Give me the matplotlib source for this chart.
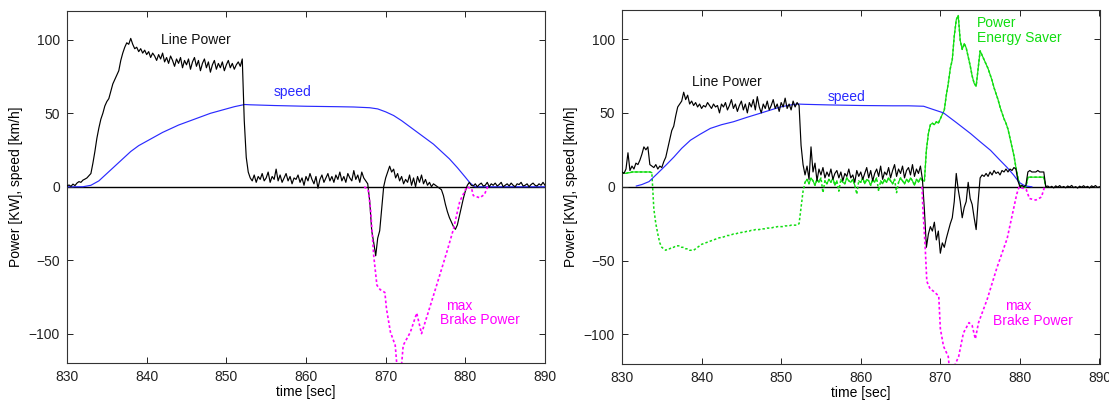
import numpy as np
import matplotlib
matplotlib.use("Agg")
import matplotlib.pyplot as plt

plt.rcParams['font.family'] = ['Liberation Sans', 'DejaVu Sans']

# ---------------- data ----------------
T_START, DT = 830.0, 0.25          # line power / energy saver sampled every 0.25 s

# Line power without energy saver [kW]
line_power_a = [
    0.5, 1.2, 0.3, 1.8,   0.8, 2.5, 3.5, 3.0,   4.5, 5.2, 6.0, 7.5,   9, 16, 24, 33,
    40, 46, 50, 55,       58, 60, 65, 70,       73, 76, 79, 86,       91, 95, 98, 97,
    101, 97, 94, 95,      92, 94, 91, 93,       90, 92, 88, 91,       89, 86, 90, 87,
    91, 85, 88, 84,       89, 86, 82, 87,       84, 88, 81, 86,       83, 87, 80, 85,
    88, 82, 86, 79,       84, 87, 81, 85,       78, 83, 86, 80,       84, 81, 85, 79,
    83, 86, 81, 84,       80, 83, 85, 82,       87, 45, 20, 10,       6, 4, 8, 3,
    7, 5, 9, 4,           6, 10, 3, 7,          5, 12, 4, 8,          3, 6, 9, 4,
    7, 2, 6, 5,           8, 3, 6, 1,           7, 4, 9, 5,           2, 7, -1, 5,
    8, 3, 6, 9,           4, 7, 3, 8,           5, 10, 4, 7,          3, 9, 6, 4,
    11, 5, 8, 3,          10, 6, 4, 2,          -10, -30, -38, -47,   -35, -30, -15, 0,
    6, 10, 14, 10,        12, 6, 9, 4,          7, 2, 5, 3,           8, 1, 6, 0,
    7, 3, 8, 2,           5, 1, 3, 0,           2, 1, 0, -1,          -2, -6, -12, -17,
    -21, -24, -27, -29,   -26, -20, -14, -8,    -3, 1, 3, 1,          0.5, 2, 0, 1.5,
    2.5, 0.5, 1, 3,       0, 2, 1, 2.5,         0.5, 1.5, 3, 0,       1, 2, 0.5, 2.5,
    1, 0, 2, 1.5,         3, 0.5, 1, 2,         0, 1.5, 2.5, 1,       0.5, 2, 1, 3,
    1,
]

# Line power with energy saver [kW]
line_power_b = [
    10, 9, 12, 23,        11, 14, 12, 16,       15, 18, 22, 27,       25, 27, 15, 14,
    13, 15, 12, 14,       13, 17, 20, 26,       32, 38, 41, 48,       54, 56, 58, 64,
    59, 62, 56, 58,       55, 57, 54, 56,       53, 55, 54, 57,       55, 53, 56, 54,
    55, 50, 56, 54,       57, 52, 55, 59,       53, 56, 51, 55,       58, 52, 56, 50,
    57, 54, 59, 52,       61, 54, 50, 56,       53, 58, 52, 55,       59, 53, 56, 51,
    57, 54, 60, 53,       56, 52, 58, 54,       57, 55, 28, 15,       8, 14, 5, 27,
    10, 16, 4, 12,        8, 13, 6, 10,         7, 12, 5, 9,          11, 6, 10, 4,
    9, 7, 12, 6,          8, 3, 11, 7,          10, 5, 9, 13,         6, 11, 4, 9,
    12, 7, 14, 5,         10, 8, 13, 6,         11, 15, 7, 12,        9, 14, 6, 11,
    13, 8, 15, 7,         12, 9, 14, 5,         -16, -41, -32, -27,   -30, -24, -36, -30,
    -45, -38, -41, -35,   -30, -25, -21, -10,   9, -2, -10, -21,      -14, -10, 3, -8,
    -12, -21, -29, -10,   6, 8, 7, 9,           7, 10, 8, 11,         9, 10, 8, 11,
    10, 12, 10, 12,       11, 13, 12, 4,        0, 1, 0, 1,           10, 11, 10, 10,
    10, 11, 10, 10,       10, 0, 0.5, -0.5,     0.3, -0.8, 0.6, -0.3, 0.8, -0.5, 0.2, -0.7,
    0.5, -0.2, 0.9, -0.6, 0.1, -0.9, 0.4, -0.3, 0.7, -0.4, 0.3, -0.8, 0.6, -0.1, 0.8, -0.5,
    0,
]

# Power delivered by the energy saver [kW]
saver_power = [
    9, 9.5, 9, 9.5,       9.5, 10, 10, 10,      10, 10, 10, 10,       10, 10, 10, 9.5,
    -15, -25, -32, -38,   -41, -42, -43, -42,   -42, -41, -41, -40,   -40, -40, -41, -41,
    -42, -42, -43, -43,   -43, -42, -41, -40,   -39, -38.5, -38, -37.5,
    -37, -36.5, -36, -35.5,  -35, -34.5, -34.5, -34,  -33.5, -33, -33, -32.5,
    -32, -32, -31.5, -31,    -31, -30.5, -30.5, -30,  -30, -29.5, -29.5, -29,
    -29, -29, -28.5, -28.5,  -28.5, -28, -28, -28,    -27.5, -27.5, -27, -27,
    -27, -27, -26.5, -26.5,  -26.5, -26, -26, -26,    -26, -25, -14, -3,
    3, 5, 2, 6,           4, 1, 5, 3,           6, -4, 4, 2,          5, 3, 6, 1,
    4, -3, 5, 3,          2, 6, 4, 3,           5, 1, -5, 4,          3, 6, 2, 5,
    4, 1, 5, 3,           6, -3, 4, 2,          5, 3, 6, 4,           2, 5, -4, 3,
    6, 4, 2, 5,           3, 6, 4, 1,           5, 3, 6, 4,           4, 25, 36, 42,
    43, 42, 44, 43,       46, 49, 52, 62,       70, 80, 86, 102,      113, 116, 99, 93,
    97, 94, 88, 82,       75, 70, 68, 80,       92, 89, 86, 83,       80, 76, 72, 67,
    63, 59, 54, 50,       46, 43, 39, 33,       27, 21, 13, 6,        1, 0, 0, 0,
    6.5, 6.5, 6.5, 6.5,   6.5, 6.5, 6.5, 6.5,   6.5, 0,
]

# Vehicle speed [km/h]
speed_t_a = [830, 832, 833, 834, 835, 836, 837, 838, 839, 840, 842, 844, 846, 848,
             850, 851, 852.3, 853, 856, 860, 864, 866, 868, 869, 870, 871, 872, 873,
             874, 875, 876, 877, 878, 879, 880, 880.6, 881.2, 890]
speed_v_a = [0, 0, 1, 4, 9, 14, 19, 24, 28, 31, 37, 42, 46, 50,
             53, 54.5, 56, 55.8, 55.3, 54.8, 54.5, 54.3, 53.8, 53, 51, 48.5, 45, 41,
             37, 33, 29, 24, 19, 13, 6.5, 2.5, 0, 0]

speed_t_b = [831.8, 832.5, 833.4, 834.4, 835.5, 836.5, 837.5, 838.6, 839.8, 841.1,
             842.5, 844.0, 845.7, 847.4, 848.7, 849.9, 851, 852.0, 853, 856, 860,
             864, 866, 867.9, 869, 870.4, 872, 873.8, 875, 876.3, 877.4, 878.4,
             879.2, 879.9, 880.5, 881.0, 881.5]
speed_v_b = [0.5, 1.5, 3.5, 8.7, 14.5, 20, 26, 31.5, 35.5, 39.5,
             42, 44, 47, 49.8, 52, 54, 55.2, 56, 55.8, 55.4, 55,
             54.8, 54.8, 54.5, 52.5, 50, 43.5, 36, 30.5, 24.7, 18.5, 13,
             8, 3, 1, 0.3, 0]

# Maximum brake power [kW]
brake_t_a = [867.3, 867.8, 868.1, 868.5, 868.9, 869.3, 869.9, 870.1, 870.6, 871.2,
             871.4, 872.0, 872.2, 873.1, 873.9, 874.5, 875.2, 876.4, 877.7, 878.5,
             879.3, 880.2, 880.8, 881.0, 881.8, 882.4, 882.8]
brake_v_a = [0, -2, -15, -47, -67, -70, -72, -83, -99, -108,
             -121, -121, -108, -99, -86, -100, -88, -67, -44, -29,
             -10, 0, -1.5, -6, -7.5, -5.3, 0]

brake_t_b = [867.7, 867.8, 868.1, 868.3, 868.7, 869.2, 869.8, 870.0, 870.4, 871.0,
             871.1, 871.8, 872.3, 872.9, 873.6, 874.0, 874.4, 874.8, 875.9, 877.1,
             878.4, 879.6, 879.9, 880.8, 881.2, 882.0, 882.7, 883.1]
brake_v_b = [0, -14, -41, -64, -69, -71, -74, -96, -108, -115,
             -121, -121, -115, -99, -92, -94, -103, -92, -76, -55,
             -35, -5, 0, -2, -8, -9, -7, 0]

x_ticks = [830, 840, 850, 860, 870, 880, 890]
y_ticks = [-100, -50, 0, 50, 100]

# ---------------- styling ----------------
C_LINE = 'black'
C_SPEED = '#2a2aff'
C_BRAKE = '#ff00ff'
C_SAVER = '#11dd11'
DOTS = (0, (1.6, 1.4))
FS = 10
LW = 0.85

W, H = 1109, 401
fig = plt.figure(figsize=(W / 100, H / 100), dpi=100)

def axes_px(x0, x1, y0, y1):
    return fig.add_axes([x0 / W, 1 - y1 / H, (x1 - x0) / W, (y1 - y0) / H])

ax_a = axes_px(67, 545, 10.5, 363)
ax_b = axes_px(622, 1099.5, 9.5, 364)

def frame(ax):
    ax.set_xlim(830, 890)
    ax.set_ylim(-120, 120)
    ax.set_xticks(x_ticks)
    ax.set_yticks(y_ticks)
    ax.tick_params(direction='in', top=True, right=True, length=4, width=0.7,
                   labelsize=FS, pad=5, colors='#222222')
    for s in ax.spines.values():
        s.set_linewidth(0.8)
        s.set_color('#333333')
    ax.axhline(0, color='black', lw=1.0, zorder=1)
    ax.set_xlabel('time [sec]', fontsize=FS, labelpad=1)
    ax.set_ylabel('Power [KW], speed [km/h]', fontsize=FS, labelpad=4)

def series_t(vals):
    return T_START + DT * np.arange(len(vals))

# left panel
frame(ax_a)
ax_a.plot(speed_t_a, speed_v_a, color=C_SPEED, lw=LW, zorder=2)
ax_a.plot(series_t(line_power_a), line_power_a, color=C_LINE, lw=LW, zorder=3)
ax_a.plot(brake_t_a, brake_v_a, color=C_BRAKE, lw=1.2, ls=DOTS, zorder=4)
ax_a.text(846.2, 100, 'Line Power', color='#111111', fontsize=FS, ha='center', va='center')
ax_a.text(858.3, 64.4, 'speed', color=C_SPEED, fontsize=FS, ha='center', va='center')
ax_a.text(879.2, -81.5, 'max', color=C_BRAKE, fontsize=FS, ha='center', va='center')
ax_a.text(881.8, -90.7, 'Brake Power', color=C_BRAKE, fontsize=FS, ha='center', va='center')

# right panel
frame(ax_b)
t_s = series_t(saver_power)
v_s = np.array(saver_power, dtype=float)
ax_b.plot(t_s, v_s, color=C_SAVER, lw=1.1, ls=DOTS, zorder=2)
ax_b.plot(t_s, np.where(v_s >= 0, v_s, np.nan), color=C_SAVER, lw=LW, zorder=2)
ax_b.plot(speed_t_b, speed_v_b, color=C_SPEED, lw=LW, zorder=2)
ax_b.plot(series_t(line_power_b), line_power_b, color=C_LINE, lw=LW, zorder=3)
ax_b.plot(brake_t_b, brake_v_b, color=C_BRAKE, lw=1.2, ls=DOTS, zorder=4)
ax_b.text(843.2, 70.8, 'Line Power', color='#111111', fontsize=FS, ha='center', va='center')
ax_b.text(858.2, 60.7, 'speed', color=C_SPEED, fontsize=FS, ha='center', va='center')
ax_b.text(874.6, 111, 'Power', color=C_SAVER, fontsize=FS, ha='left', va='center')
ax_b.text(874.6, 100.7, 'Energy Saver', color=C_SAVER, fontsize=FS, ha='left', va='center')
ax_b.text(879.8, -81, 'max', color=C_BRAKE, fontsize=FS, ha='center', va='center')
ax_b.text(881.6, -90.6, 'Brake Power', color=C_BRAKE, fontsize=FS, ha='center', va='center')

fig.savefig('out.png', dpi=100)
